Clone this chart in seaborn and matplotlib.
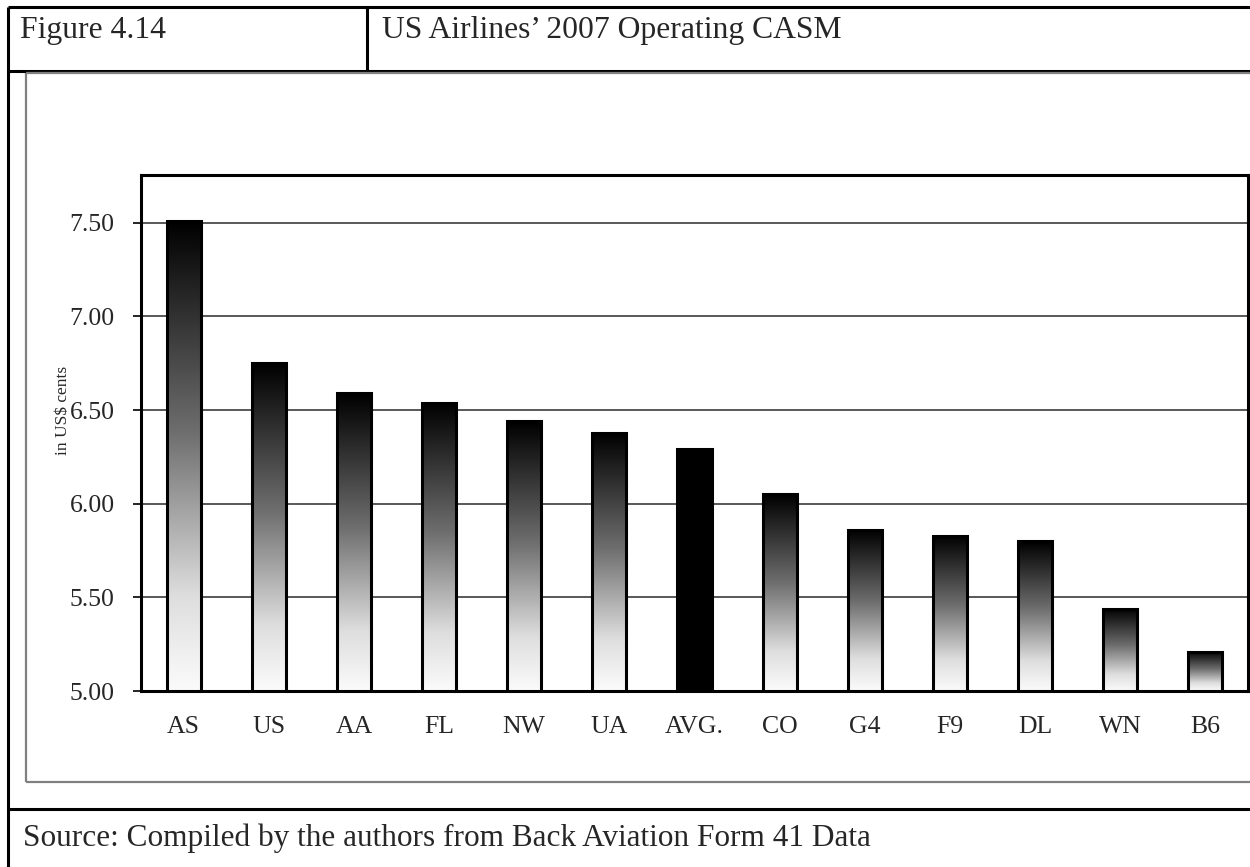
import numpy as np
import pandas as pd
import matplotlib
matplotlib.use("Agg")
import matplotlib.pyplot as plt
import seaborn as sns
from matplotlib.lines import Line2D
from matplotlib.colors import LinearSegmentedColormap

# Operating cost per available seat mile, 2007 (US cents)
carriers = ["AS", "US", "AA", "FL", "NW", "UA", "AVG.", "CO", "G4", "F9", "DL", "WN", "B6"]
casm = [7.51, 6.75, 6.59, 6.54, 6.44, 6.38, 6.29, 6.05, 5.86, 5.83, 5.80, 5.44, 5.21]
y_ticks = [5.00, 5.50, 6.00, 6.50, 7.00, 7.50]
y_tick_labels = ["5.00", "5.50", "6.00", "6.50", "7.00", "7.50"]
highlight = "AVG."

fig_label = "Figure 4.14"
title = "US Airlines\u2019 2007 Operating CASM"
y_label = "in US$ cents"
source = "Source: Compiled by the authors from Back Aviation Form 41 Data"

sns.set_theme(style="white")
plt.rcParams["font.family"] = ["Liberation Serif", "DejaVu Serif"]

W, H = 1250, 867
fig = plt.figure(figsize=(W / 100, H / 100), dpi=100)
fig.patch.set_facecolor("white")


def fx(px):
    return px / W


def fy(py):
    return 1 - py / H


# page table frame
def fig_line(x0, y0, x1, y1, color="black", lw=2.2):
    fig.add_artist(Line2D([fx(x0), fx(x1)], [fy(y0), fy(y1)], transform=fig.transFigure,
                          color=color, lw=lw, solid_capstyle="butt"))


fig_line(8, 7, 1250, 7)
fig_line(8, 7, 8, 867)
fig_line(8, 71, 1250, 71)
fig_line(367, 7, 367, 71)
fig_line(8, 809, 1250, 809)
fig_line(26, 73, 26, 782, color="#808080", lw=1.6)
fig_line(26, 73, 1250, 73, color="#808080", lw=1.6)
fig_line(26, 782, 1250, 782, color="#808080", lw=1.6)

fig.text(fx(20), fy(38), fig_label, fontsize=22.8, ha="left", va="baseline")
fig.text(fx(382), fy(38), title, fontsize=22.8, ha="left", va="baseline")
fig.text(fx(23), fy(846), source, fontsize=22.5, ha="left", va="baseline")

# chart
ax = fig.add_axes([fx(141), fy(691), fx(1248 - 141), (691 - 175) / H])
df = pd.DataFrame({"carrier": carriers, "casm": casm})
sns.barplot(data=df, x="carrier", y="casm", ax=ax, width=0.4, color="white",
            edgecolor="black", linewidth=2.2, saturation=1, zorder=3)

ymin, ymax = 5.0, 7.755
ax.set_ylim(ymin, ymax)
ax.set_xlim(-0.5, len(carriers) - 0.5)

grad_cmap = LinearSegmentedColormap.from_list(
    "bar_fade", [(0.0, "#000000"), (0.45, "#6e6e6e"), (0.8, "#dedede"), (1.0, "#fbfbfb")])
grad = np.linspace(0, 1, 256).reshape(-1, 1)

for patch, name, val in zip(ax.patches, carriers, casm):
    x0 = patch.get_x()
    w = patch.get_width()
    if name == highlight:
        patch.set_facecolor("black")
        continue
    patch.set_facecolor("none")
    ax.imshow(grad, cmap=grad_cmap, aspect="auto", origin="upper",
              extent=[x0, x0 + w, ymin, val], zorder=2, interpolation="bilinear")

ax.set_xlim(-0.5, len(carriers) - 0.5)
ax.set_ylim(ymin, ymax)

ax.set_yticks(y_ticks)
ax.set_yticklabels(y_tick_labels)
ax.yaxis.grid(True, color="#3c3c3c", lw=1.2, zorder=0)
ax.set_axisbelow(True)

ax.set_xticks(range(len(carriers)))
ax.set_xticklabels(carriers)
ax.set_xticks(np.arange(-0.5, len(carriers), 1.0), minor=True)
ax.tick_params(axis="x", which="major", length=0, pad=18, labelsize=18.5)
ax.tick_params(axis="x", which="minor", direction="out", length=6, width=1.2, color="black")
ax.tick_params(axis="y", which="major", direction="out", length=6, width=1.2, color="black",
               pad=13, labelsize=18.5, left=True)

ax.set_xlabel("")
ax.set_ylabel("")
for sp in ax.spines.values():
    sp.set_color("black")
    sp.set_linewidth(2.2)
    sp.set_visible(True)

fig.text(fx(63), fy(410), y_label, rotation=90, fontsize=12.5, ha="center", va="center")

fig.savefig("out.png", dpi=100, facecolor="white")
